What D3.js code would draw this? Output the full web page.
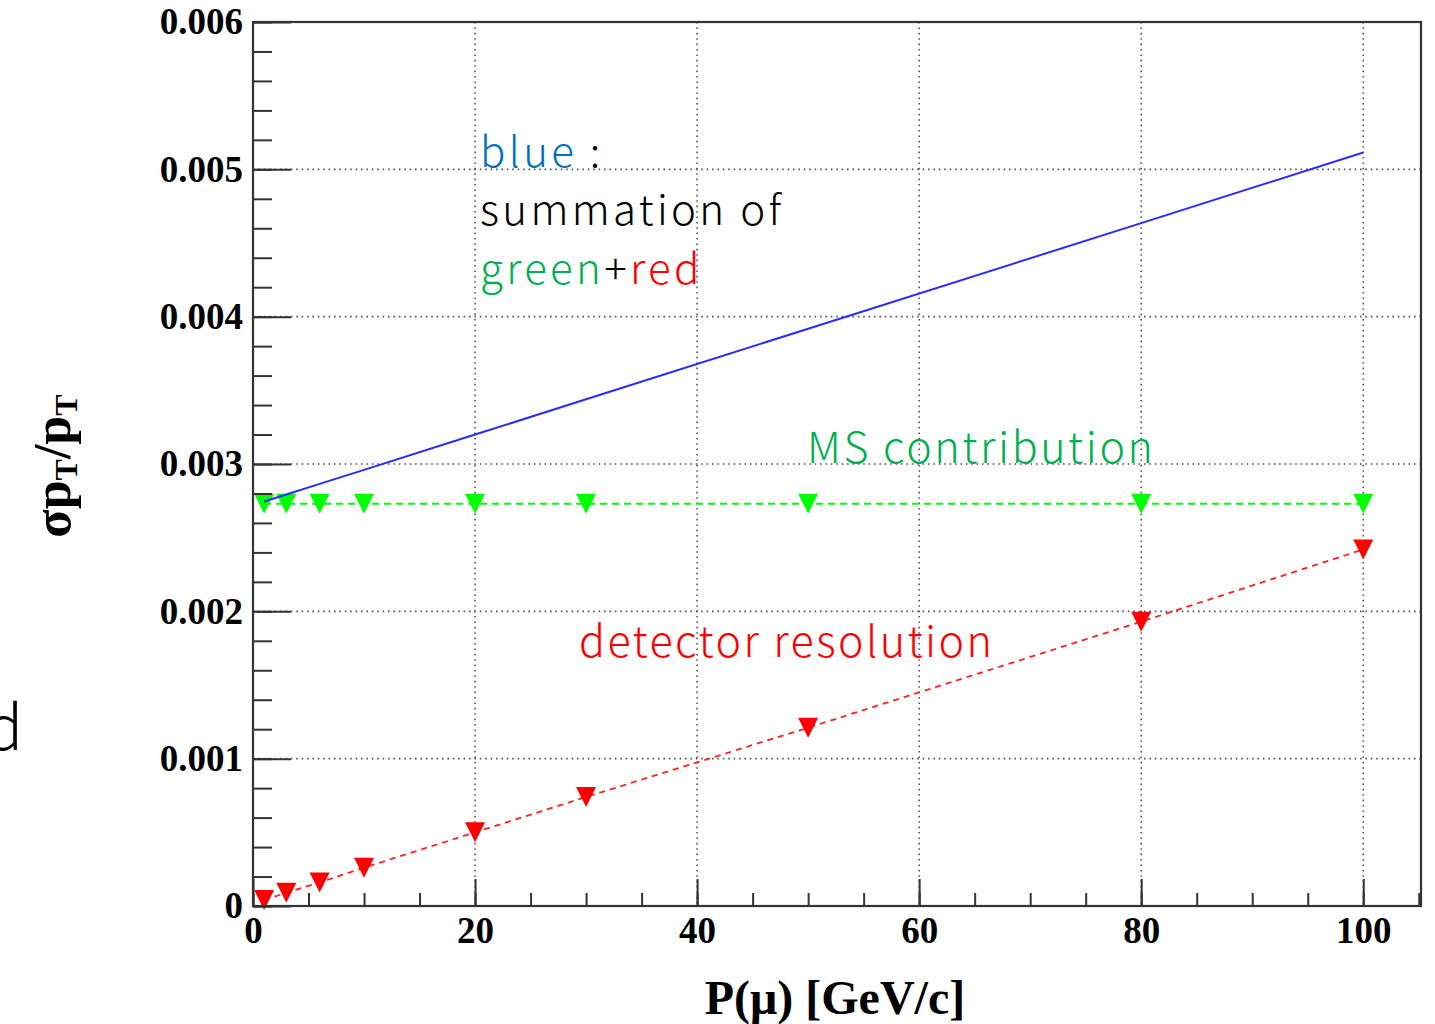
<!DOCTYPE html>
<html><head><meta charset="utf-8">
<script src="https://cdn.jsdelivr.net/npm/d3@7"></script>
<style>body{margin:0;background:#fff;overflow:hidden} svg{display:block}</style>
</head><body><svg id="c" width="1435" height="1024"></svg>
<script>
// ---- data ----
const momentum = [1, 3, 6, 10, 20, 30, 50, 80, 100];
const msContribution = [0.00273, 0.00273, 0.00273, 0.00273, 0.00273, 0.00273, 0.00273, 0.00273, 0.00273];
const detectorResolution = [0.00004, 0.00009, 0.00016, 0.00026, 0.00050, 0.00074, 0.00121, 0.00193, 0.00242];
const totalResolution = [0.002745, 0.002793, 0.002865, 0.002960, 0.003200, 0.003439, 0.003918, 0.004635, 0.005114];
const xMajorTicks = [0, 20, 40, 60, 80, 100];
const xTickLabels = ["0", "20", "40", "60", "80", "100"];
const yMajorTicks = [0, 0.001, 0.002, 0.003, 0.004, 0.005, 0.006];
const yTickLabels = ["0", "0.001", "0.002", "0.003", "0.004", "0.005", "0.006"];
const xMinorTicks = d3.range(0, 106, 5);
const yMinorTicks = d3.range(0, 31).map(i => i * 0.0002);

// ---- layout ----
const svg = d3.select("#c");
const L = 253, R = 1421, T = 22, B = 906;
const x = d3.scaleLinear().domain([0, 105.2]).range([L, R]);
const y = d3.scaleLinear().domain([0, 0.006]).range([B, T]);
const serif = "'Liberation Serif', 'Times New Roman', serif";
const sans = "'Noto Sans CJK JP', 'Noto Sans', sans-serif";
const axisColor = "#333";

// grid
const grid = svg.append("g").attr("stroke", "#555").attr("stroke-width", 1.6)
  .attr("stroke-dasharray", "1.6,3.8").attr("fill", "none");
grid.selectAll("line.v").data(xMajorTicks.filter(d => d > 0)).join("line")
  .attr("x1", d => x(d)).attr("x2", d => x(d)).attr("y1", T).attr("y2", B);
grid.selectAll("line.h").data(yMajorTicks.filter(d => d > 0 && d < 0.006)).join("line")
  .attr("x1", L).attr("x2", R).attr("y1", d => y(d)).attr("y2", d => y(d));

// series
const idx = momentum.map((_, i) => i);
const lineOf = arr => d3.line().x(i => x(momentum[i])).y(i => y(arr[i]));
const tri = "M-10,-10L10,-10L0,10Z";

svg.append("path").attr("d", lineOf(msContribution)(idx)).attr("fill", "none")
  .attr("stroke", "#00ff00").attr("stroke-width", 2).attr("stroke-dasharray", "7,5");
svg.append("g").selectAll("path").data(idx).join("path")
  .attr("d", tri).attr("transform", i => `translate(${x(momentum[i])},${y(msContribution[i])})`)
  .attr("fill", "#00ff00");

svg.append("path").attr("d", lineOf(detectorResolution)(idx)).attr("fill", "none")
  .attr("stroke", "#ff2020").attr("stroke-width", 1.8).attr("stroke-dasharray", "6,5");
svg.append("g").selectAll("path").data(idx).join("path")
  .attr("d", tri).attr("transform", i => `translate(${x(momentum[i])},${y(detectorResolution[i])})`)
  .attr("fill", "#ff0000");

svg.append("path").attr("d", lineOf(totalResolution)(idx)).attr("fill", "none")
  .attr("stroke", "#2a2aff").attr("stroke-width", 2);

// axes
const styleAxis = g => {
  g.select(".domain").remove();
  g.selectAll(".tick line").attr("stroke", axisColor).attr("stroke-width", 2);
  g.selectAll(".tick text").attr("fill", "#000").attr("font-family", serif)
    .attr("font-weight", "bold").attr("font-size", 37);
};
svg.append("g").attr("transform", `translate(0,${B})`)
  .call(d3.axisBottom(x).tickValues(xMinorTicks).tickSize(-13).tickFormat(""))
  .call(styleAxis);
svg.append("g").attr("transform", `translate(0,${B})`)
  .call(d3.axisBottom(x).tickValues(xMajorTicks).tickSize(-27).tickPadding(11)
    .tickFormat((d, i) => xTickLabels[i]))
  .call(styleAxis);
svg.append("g").attr("transform", `translate(${L},0)`)
  .call(d3.axisLeft(y).tickValues(yMinorTicks).tickSize(-19).tickFormat(""))
  .call(styleAxis);
svg.append("g").attr("transform", `translate(${L},0)`)
  .call(d3.axisLeft(y).tickValues(yMajorTicks).tickSize(-38).tickPadding(10)
    .tickFormat((d, i) => yTickLabels[i]))
  .call(styleAxis);

// frame
svg.append("rect").attr("x", L).attr("y", T).attr("width", R - L).attr("height", B - T)
  .attr("fill", "none").attr("stroke", axisColor).attr("stroke-width", 2.2);

// axis titles
svg.append("text").attr("x", 835).attr("y", 1014).attr("text-anchor", "middle")
  .attr("font-family", serif).attr("font-weight", "bold").attr("font-size", 48)
  .text("P(\u03bc) [GeV/c]");

const yt = svg.append("text").attr("transform", "translate(70,466) rotate(-90)")
  .attr("text-anchor", "middle").attr("font-family", serif).attr("font-weight", "bold")
  .attr("font-size", 52);
yt.append("tspan").text("\u03c3p");
yt.append("tspan").attr("font-size", 32).attr("dy", 7).text("T");
yt.append("tspan").attr("dy", -7).text("/p");
yt.append("tspan").attr("font-size", 32).attr("dy", 7).text("T");

// annotations: fixed size, widen with letter-spacing to match reference widths
function spread(sel, w) {
  const n = sel.node();
  const cur = n.getComputedTextLength();
  const chars = n.textContent.length;
  const ls = (w - cur) / Math.max(1, chars - 1);
  sel.attr("letter-spacing", ls);
  return ls;
}
const ann = (xx, yy, fs) => svg.append("text").attr("x", xx).attr("y", yy)
  .attr("font-family", sans).attr("font-weight", 300).attr("font-size", fs);

const sum = ann(480, 225, 42).attr("fill", "#000").text("summation of");
const lsA = spread(sum, 301);
const b1 = ann(480, 167, 42).attr("letter-spacing", lsA);
b1.append("tspan").attr("fill", "#0070C0").text("blue");
b1.append("tspan").attr("fill", "#000").text(" :");
const g1 = ann(480, 284, 42).attr("letter-spacing", lsA);
g1.append("tspan").attr("fill", "#00B050").text("green");
g1.append("tspan").attr("fill", "#000").text("+");
g1.append("tspan").attr("fill", "#FF0000").text("red");

const ms = ann(807, 463, 43).attr("fill", "#00B050").text("MS contribution");
spread(ms, 346);
const det = ann(579, 657, 43).attr("fill", "#FF0000").text("detector resolution");
spread(det, 413);

svg.append("text").attr("x", 23).attr("y", 750).attr("text-anchor", "end")
  .attr("font-family", sans).attr("font-weight", 300).attr("font-size", 62)
  .attr("fill", "#000").text("d");
</script>
</body></html>
